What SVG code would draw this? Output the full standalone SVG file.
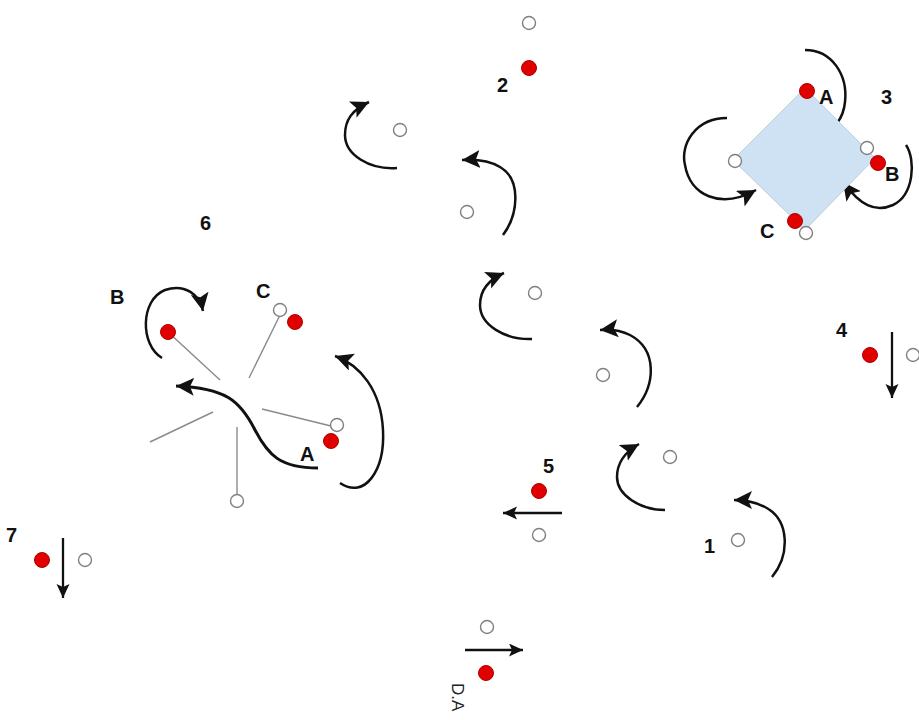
<svg xmlns="http://www.w3.org/2000/svg" width="919" height="720" viewBox="0 0 919 720">
<style>
.red{fill:#e00000;stroke:#b00000;stroke-width:1}
.wht{fill:#fff;stroke:#808080;stroke-width:1.4}
.lbl{font-family:"Liberation Sans",Arial,sans-serif;font-weight:bold;font-size:20px;fill:#111}
.arc{fill:none;stroke:#111;stroke-width:2.5;marker-end:url(#ah)}
.str{fill:none;stroke:#111;stroke-width:2.3;marker-end:url(#ahs)}
.spk{stroke:#8a8a8a;stroke-width:1.4;fill:none}
</style>
<defs>
<marker id="ah" markerUnits="userSpaceOnUse" markerWidth="20" markerHeight="20" refX="18" refY="9" orient="auto">
<path d="M0,0 L18,9 L0,18 L4,9 z" fill="#111"/>
</marker>
<marker id="ahs" markerUnits="userSpaceOnUse" markerWidth="16" markerHeight="14" refX="14" refY="6.5" orient="auto">
<path d="M0,0 L14,6.5 L0,13 L3,6.5 z" fill="#111"/>
</marker>
</defs>
<rect width="919" height="720" fill="#fff"/>

<g id="connectors">
<path class="arc" d="M805,50 C832,50 848,75 845,102 C842,135 805,152 774,121"/>
<path class="arc" d="M727,118 C695,118 680,145 685,165 C690,195 720,210 756,190"/>
<path class="arc" d="M906,145 C916,160 914,195 893,205 C875,213 860,205 843,182"/>
<path class="arc" d="M162,358 C140,345 140,300 165,290 C185,283 200,295 203,311"/>
<path class="arc" d="M340,483 C365,500 385,470 383,430 C381,390 360,365 335,356"/>
<path fill="none" stroke="#111" stroke-width="3" marker-end="url(#ah)" d="M318,468 C280,468 268,455 255,430 C240,400 225,388 176,386"/>
<path class="arc" d="M397,168 C370,170 345,155 345,135 C345,120 352,110 369,102"/>
<path class="arc" d="M503,235 C518,215 522,180 500,167 C490,161 478,159 462,160"/>
<path class="arc" d="M532,339 C505,340 480,325 480,305 C480,290 488,280 504,273"/>
<path class="arc" d="M637,407 C655,385 658,350 630,335 C620,330 610,329 600,330"/>
<path class="arc" d="M665,510 C640,510 617,495 617,477 C617,463 625,452 639,444"/>
<path class="arc" d="M772,577 C790,555 790,520 765,507 C755,502 745,500 734,500"/>
<path class="str" d="M562,513 L503,513"/>
<path class="str" d="M465,650 L523,650"/>
<path class="str" d="M63,538 L63,598"/>
<path class="str" d="M892,332 L892,398"/>
</g>

<g id="node2">
<circle class="wht" cx="529" cy="23" r="6.5"/>
<circle class="red" cx="529" cy="68" r="7.5"/>
<text class="lbl" x="497" y="92">2</text>
</g>

<g id="node3">
<polygon points="805,88 875,158 805,230 733,160" fill="#cfe2f3" stroke="#b8cde0" stroke-width="1"/>
<circle class="red" cx="807" cy="91" r="7.5"/>
<circle class="wht" cx="735" cy="161" r="6.5"/>
<circle class="wht" cx="867" cy="148" r="6.5"/>
<circle class="red" cx="878" cy="163" r="7.5"/>
<circle class="red" cx="795" cy="221" r="7.5"/>
<circle class="wht" cx="806" cy="233" r="6.5"/>
<text class="lbl" x="819" y="104">A</text>
<text class="lbl" x="881" y="104">3</text>
<text class="lbl" x="885" y="181">B</text>
<text class="lbl" x="760" y="238">C</text>
</g>

<g id="node4">
<circle class="red" cx="870" cy="355" r="7.5"/>
<circle class="wht" cx="913" cy="355" r="6.5"/>
<text class="lbl" x="836" y="337">4</text>
</g>

<g id="rot-a">
<circle class="wht" cx="400" cy="130" r="6.5"/>
</g>
<g id="rot-b">
<circle class="wht" cx="467" cy="212" r="6.5"/>
</g>
<g id="rot-c">
<circle class="wht" cx="535" cy="293" r="6.5"/>
</g>
<g id="rot-d">
<circle class="wht" cx="603" cy="375" r="6.5"/>
</g>
<g id="rot-e">
<circle class="wht" cx="670" cy="457" r="6.5"/>
</g>

<g id="node1">
<circle class="wht" cx="738" cy="540" r="6.5"/>
<text class="lbl" x="704" y="553">1</text>
</g>

<g id="node5">
<circle class="red" cx="539" cy="491" r="7.5"/>
<circle class="wht" cx="539" cy="535" r="6.5"/>
<text class="lbl" x="543" y="473">5</text>
</g>

<g id="node6">
<line class="spk" x1="168" y1="332" x2="220" y2="380"/>
<line class="spk" x1="282" y1="311" x2="249" y2="378"/>
<line class="spk" x1="335" y1="427" x2="262" y2="409"/>
<line class="spk" x1="213" y1="412" x2="150" y2="442"/>
<line class="spk" x1="237" y1="427" x2="237" y2="494"/>
<circle class="red" cx="168" cy="332" r="7.5"/>
<circle class="wht" cx="280" cy="310" r="6.5"/>
<circle class="red" cx="295" cy="322" r="7.5"/>
<circle class="wht" cx="337" cy="425" r="6.5"/>
<circle class="red" cx="331" cy="441" r="7.5"/>
<circle class="wht" cx="237" cy="501" r="6.5"/>
<text class="lbl" x="200" y="230">6</text>
<text class="lbl" x="110" y="304">B</text>
<text class="lbl" x="256" y="298">C</text>
<text class="lbl" x="300" y="461">A</text>
</g>

<g id="node7">
<circle class="red" cx="42" cy="560" r="7.5"/>
<circle class="wht" cx="85" cy="560" r="6.5"/>
<text class="lbl" x="6" y="542">7</text>
</g>

<g id="nodeDA">
<circle class="wht" cx="487" cy="627" r="6.5"/>
<circle class="red" cx="486" cy="673" r="7.5"/>
<text x="452" y="683" transform="rotate(90 452 683)" font-family="Liberation Sans, Arial, sans-serif" font-size="17" fill="#222">D.A</text>
</g>
</svg>
